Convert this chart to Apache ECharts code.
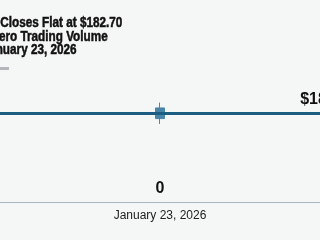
<!DOCTYPE html>
<html>
<head>
<meta charset="utf-8">
<script src="https://cdn.jsdelivr.net/npm/echarts@6/dist/echarts.min.js"></script>
<style>
html,body{margin:0;padding:0;background:#f5f7f7;}
#chart{width:320px;height:240px;}
</style>
</head>
<body>
<div id="chart"></div>
<script>
var categories = ["January 23, 2026"];
var openValues = [182.73];
var closeValues = [182.67];
var lowValues = [182.64];
var highValues = [182.76];
var closePrice = [182.70];
var volumes = [0];
var titleLines = ["Stock Closes Flat at $182.70", "with Zero Trading Volume", "on January 23, 2026"];
var priceLabel = "$182.70";

var candleData = categories.map(function (c, i) {
  return [openValues[i], closeValues[i], lowValues[i], highValues[i]];
});

var chart = echarts.init(document.getElementById('chart'), null, {renderer: 'canvas'});
chart.setOption({
  backgroundColor: '#f5f7f7',
  animation: false,
  graphic: [
    {
      type: 'text',
      x: -35, y: 16.5,
      scaleX: 0.81,
      style: {
        text: titleLines.join('\n'),
        font: 'bold 14.5px "Liberation Sans", Arial, sans-serif',
        lineHeight: 13.5,
        fill: '#111',
        stroke: '#111',
        lineWidth: 0.5,
        verticalAlign: 'top',
        align: 'left'
      }
    },
    {
      type: 'rect',
      left: -20, top: 67,
      shape: {width: 29, height: 3},
      style: {fill: '#b3b7ba'}
    }
  ],
  grid: {left: -43, right: -43, top: 60, bottom: 38},
  xAxis: {
    type: 'category',
    data: categories,
    axisLine: {lineStyle: {color: '#a9b5bf', width: 1}},
    axisTick: {alignWithLabel: true, length: 5, lineStyle: {color: '#7f97a8'}},
    axisLabel: {color: '#222', fontSize: 12, fontFamily: '"Liberation Sans", Arial, sans-serif', margin: 8}
  },
  yAxis: [
    {type: 'value', min: 182.2, max: 183.0, show: false},
    {type: 'value', min: 0, max: 1, show: false}
  ],
  series: [
    {
      type: 'line',
      yAxisIndex: 0,
      data: closePrice,
      symbol: 'none',
      z: 1,
      lineStyle: {opacity: 0},
      markLine: {
        silent: true,
        symbol: ['none', 'none'],
        lineStyle: {color: '#1c5d82', width: 3, type: 'solid'},
        label: {
          show: true,
          position: 'insideEndTop',
          formatter: priceLabel,
          color: '#111',
          fontSize: 16,
          fontWeight: 'bold',
          fontFamily: '"Liberation Sans", Arial, sans-serif',
          distance: 6,
          offset: [44, 0]
        },
        data: [{yAxis: closePrice[0]}]
      }
    },
    {
      type: 'candlestick',
      yAxisIndex: 0,
      data: candleData,
      barWidth: 10,
      z: 3,
      itemStyle: {
        color: '#4a84a6', color0: '#4a84a6',
        borderColor: '#4a84a6', borderColor0: '#4a84a6', borderWidth: 1
      }
    },
    {
      type: 'bar',
      yAxisIndex: 1,
      data: volumes,
      barWidth: 10,
      itemStyle: {color: '#4a84a6'},
      label: {
        show: true,
        position: 'top',
        distance: 5,
        color: '#111',
        fontSize: 16,
        fontWeight: 'bold',
        fontFamily: '"Liberation Sans", Arial, sans-serif'
      }
    }
  ]
});
</script>
</body>
</html>
